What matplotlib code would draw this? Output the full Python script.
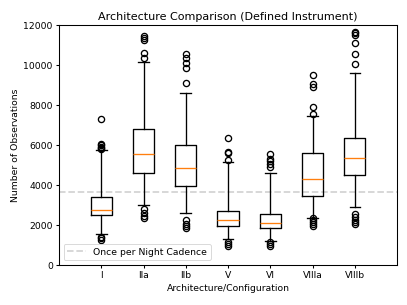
import matplotlib
matplotlib.use("Agg")
import matplotlib.pyplot as plt

labels = ["I", "IIa", "IIb", "V", "VI", "VIIIa", "VIIIb"]
q1 = [2480, 4600, 3920, 1960, 1870, 3460, 4480]
med = [2770, 5530, 4830, 2270, 2080, 4290, 5320]
q3 = [3400, 6800, 5980, 2700, 2530, 5580, 6360]
whislo = [1560, 3020, 2580, 1280, 1220, 2330, 2900]
whishi = [5750, 10150, 8600, 5150, 4580, 7420, 9570]
fliers = [
    [1250, 1350, 1400, 5800, 5850, 5900, 6000, 6050, 7280],
    [2350, 2450, 2600, 2780, 10350, 10600, 11250, 11350, 11450],
    [1850, 1950, 2050, 2250, 9080, 9850, 10100, 10350, 10550],
    [950, 1050, 1150, 5250, 5600, 5650, 6350],
    [950, 1050, 1150, 4870, 5050, 5200, 5300, 5550],
    [1950, 2050, 2150, 2250, 2350, 7550, 7900, 8900, 9050, 9500],
    [2050, 2150, 2250, 2400, 2550, 10050, 10550, 11100, 11500, 11600, 11650],
]
cadence = 3650

plt.rcParams["font.size"] = 10.5

stats = []
for i, lab in enumerate(labels):
    stats.append(dict(label=lab, q1=q1[i], med=med[i], q3=q3[i],
                      whislo=whislo[i], whishi=whishi[i], fliers=fliers[i]))

fig = plt.figure(figsize=(6.4, 4.8), dpi=63.6)
ax = fig.add_axes([59 / 407, 1 - 265 / 305, (397 - 59) / 407, (265 - 25) / 305])
lw = 1.5
ax.bxp(stats, positions=range(1, len(labels) + 1),
       boxprops=dict(linewidth=lw),
       whiskerprops=dict(linewidth=lw),
       capprops=dict(linewidth=lw),
       medianprops=dict(linewidth=lw, color="#ff7f0e"),
       flierprops=dict(markeredgewidth=lw, markersize=7))
ax.axhline(cadence, color="lightgray", linestyle="--", linewidth=2,
           label="Once per Night Cadence", zorder=0)
ax.set_xlim(0, 8)
ax.set_ylim(0, 12000)
for s in ax.spines.values():
    s.set_linewidth(1.2)
ax.tick_params(width=1.2)
ax.set_title("Architecture Comparison (Defined Instrument)")
ax.set_xlabel("Architecture/Configuration")
ax.set_ylabel("Number of Observations")
ax.legend(loc="lower left")
fig.savefig("out.png", dpi=63.6)
